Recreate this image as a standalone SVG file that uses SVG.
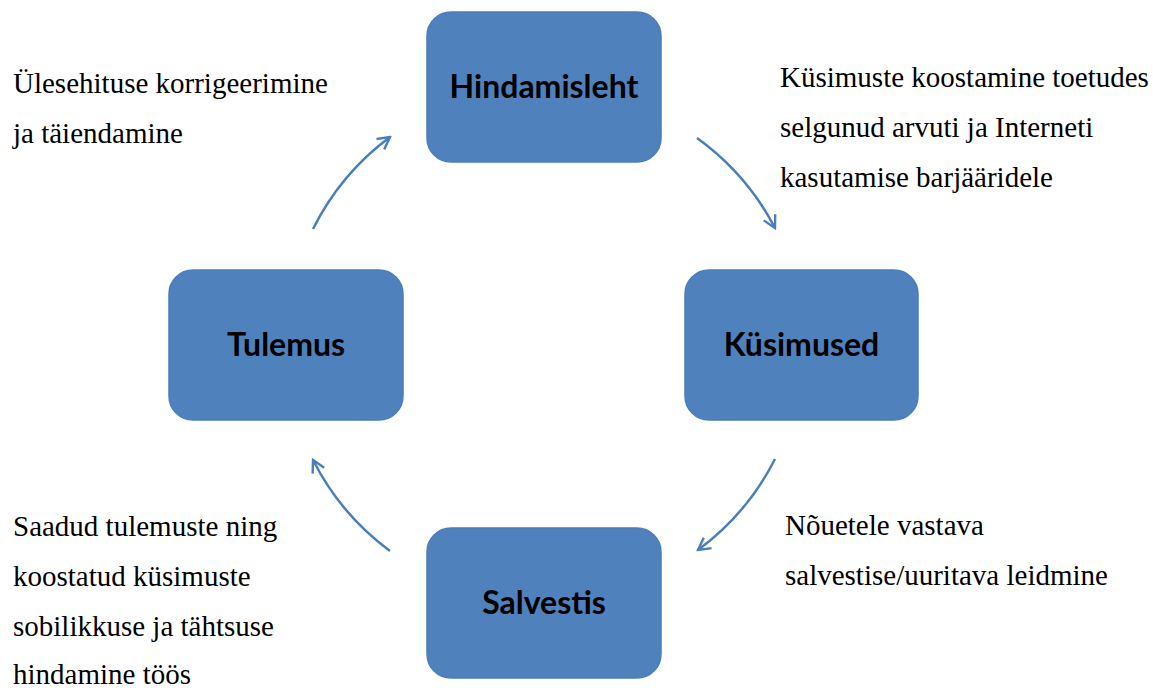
<svg xmlns="http://www.w3.org/2000/svg" width="1156" height="688" viewBox="0 0 1156 688">
<defs>
<style>
.box{fill:#4F81BD;stroke:#4A7EBB;stroke-width:1.5}
.lbl{font-family:Lato,"Open Sans",sans-serif;font-weight:bold;font-size:32px;fill:#000;text-anchor:middle}
.txt{font-family:"Liberation Serif","Times New Roman",serif;font-size:29px;fill:#000}
.arc{fill:none;stroke:#4A7EBB;stroke-width:2.5}
</style>
<marker id="ah" viewBox="0 0 16 16" refX="14" refY="8" markerWidth="16" markerHeight="16" markerUnits="userSpaceOnUse" orient="auto">
<path d="M2,1.5 L14,8 L2,14.5" fill="none" stroke="#4A7EBB" stroke-width="2.4"/>
</marker>
</defs>
<rect width="1156" height="688" fill="#fff"/>
<g id="n-hindamisleht"><rect class="box" x="427" y="12" width="234" height="150" rx="24"/><text class="lbl" x="544" y="98">Hindamisleht</text></g>
<g id="n-kusimused"><rect class="box" x="685" y="270" width="233" height="150" rx="24"/><text class="lbl" x="801.5" y="356">Küsimused</text></g>
<g id="n-tulemus"><rect class="box" x="169" y="270" width="234" height="150" rx="24"/><text class="lbl" x="286" y="356">Tulemus</text></g>
<g id="n-salvestis"><rect class="box" x="427" y="528" width="234" height="150" rx="24"/><text class="lbl" x="544" y="614">Salvestis</text></g>
<g id="connectors">
<path class="arc" d="M697,138 A258,258 0 0 1 775,228" marker-end="url(#ah)"/>
<path class="arc" d="M775,459 A258,258 0 0 1 698,550" marker-end="url(#ah)"/>
<path class="arc" d="M390,551 A258,258 0 0 1 313,460" marker-end="url(#ah)"/>
<path class="arc" d="M313,229 A258,258 0 0 1 390,137" marker-end="url(#ah)"/>
</g>
<g id="labels">
<text class="txt" x="13" y="93">Ülesehituse korrigeerimine</text>
<text class="txt" x="13" y="143">ja täiendamine</text>
<text class="txt" x="780" y="87">Küsimuste koostamine toetudes</text>
<text class="txt" x="780" y="137">selgunud arvuti ja Interneti</text>
<text class="txt" x="780" y="187">kasutamise barjääridele</text>
<text class="txt" x="785" y="535">Nõuetele vastava</text>
<text class="txt" x="785" y="585">salvestise/uuritava leidmine</text>
<text class="txt" x="13" y="536">Saadud tulemuste ning</text>
<text class="txt" x="13" y="586">koostatud küsimuste</text>
<text class="txt" x="13" y="636">sobilikkuse ja tähtsuse</text>
<text class="txt" x="13" y="684">hindamine töös</text>
</g>
</svg>
